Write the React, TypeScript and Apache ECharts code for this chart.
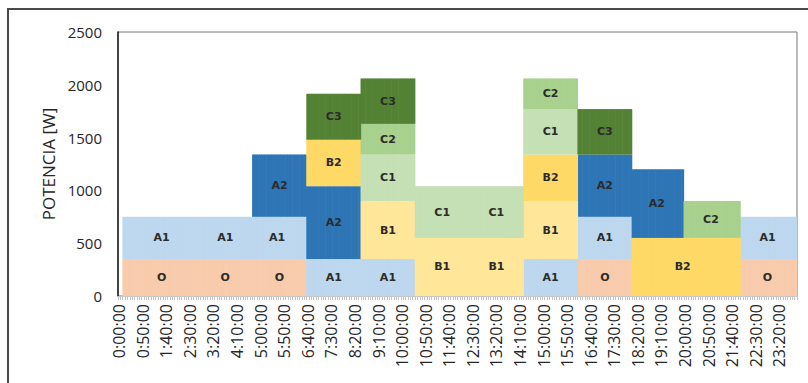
import React, { useEffect, useRef } from "react";
import * as echarts from "echarts";

// One category per 5-minute slot over a full day
const SLOT_MINUTES = 5;
const SLOT_COUNT = 288;
const LABEL_EVERY = 10; // a tick label every 50 minutes

const Y_MAX = 2500;
const Y_STEP = 500;
const Y_TITLE = "POTENCIA [W]";

// Load blocks per series: [first slot, end slot (exclusive), watts]
const O_BLOCKS = [[2, 80, 350], [195, 218, 350], [264, 288, 350]];
const A1_BLOCKS = [[2, 80, 400], [80, 126, 350], [172, 195, 350], [195, 218, 400], [264, 288, 400]];
const B2_BASE_BLOCKS = [[218, 264, 550]];
const A2_BLOCKS = [[57, 80, 590], [80, 103, 690], [195, 218, 590], [218, 240, 650]];
const B1_BLOCKS = [[103, 126, 550], [126, 172, 550], [172, 195, 550]];
const B2_BLOCKS = [[80, 103, 440], [172, 195, 440]];
const C1_BLOCKS = [[103, 126, 440], [126, 172, 490], [172, 195, 430]];
const C2_BLOCKS = [[103, 126, 290], [172, 195, 290], [240, 264, 350]];
const C3_BLOCKS = [[80, 103, 435], [103, 126, 430], [195, 218, 430]];

// Slots whose bar carries the series name
const O_LABELS = [18, 45, 68, 206, 275];
const A1_LABELS = [18, 45, 67, 91, 114, 183, 206, 275];
const B2_BASE_LABELS = [239];
const A2_LABELS = [68, 91, 206, 228];
const B1_LABELS = [114, 137, 160, 183];
const B2_LABELS = [91, 183];
const C1_LABELS = [114, 137, 160, 183];
const C2_LABELS = [114, 183, 251];
const C3_LABELS = [91, 114, 206];

// Stack order, bottom to top
const LAYERS = [
  { id: "O", name: "O", color: "#F8CBAD", blocks: O_BLOCKS, labels: O_LABELS },
  { id: "A1", name: "A1", color: "#BDD7EE", blocks: A1_BLOCKS, labels: A1_LABELS },
  { id: "B2base", name: "B2", color: "#FFD966", blocks: B2_BASE_BLOCKS, labels: B2_BASE_LABELS },
  { id: "A2", name: "A2", color: "#2E75B6", blocks: A2_BLOCKS, labels: A2_LABELS },
  { id: "B1", name: "B1", color: "#FFE699", blocks: B1_BLOCKS, labels: B1_LABELS },
  { id: "B2", name: "B2", color: "#FFD966", blocks: B2_BLOCKS, labels: B2_LABELS },
  { id: "C1", name: "C1", color: "#C5E0B4", blocks: C1_BLOCKS, labels: C1_LABELS },
  { id: "C2", name: "C2", color: "#A9D18E", blocks: C2_BLOCKS, labels: C2_LABELS },
  { id: "C3", name: "C3", color: "#548235", blocks: C3_BLOCKS, labels: C3_LABELS },
];

function slotLabel(i: number): string {
  const m = i * SLOT_MINUTES;
  const h = Math.floor(m / 60);
  const mm = String(m % 60).padStart(2, "0");
  return `${h}:${mm}:00`;
}

function expand(blocks: number[][]): (number | null)[] {
  const out: (number | null)[] = new Array(SLOT_COUNT).fill(null);
  for (const [s, e, v] of blocks) {
    for (let i = s; i < e; i++) out[i] = v;
  }
  return out;
}

export default function App() {
  const ref = useRef<HTMLDivElement>(null);

  useEffect(() => {
    if (!ref.current) return;
    const chart = echarts.init(ref.current, undefined, { renderer: "svg" });
    const categories = Array.from({ length: SLOT_COUNT }, (_, i) => slotLabel(i));

    chart.setOption({
      animation: false,
      backgroundColor: "#ffffff",
      grid: {
        left: 118,
        right: 11,
        top: 32,
        bottom: 87,
        show: true,
        borderColor: "#777777",
        borderWidth: 1,
      },
      xAxis: {
        type: "category",
        data: categories,
        boundaryGap: true,
        axisLine: { show: true, lineStyle: { color: "#c8c8c8" } },
        axisTick: { show: true, interval: 0, length: 4, lineStyle: { color: "#c4c4c4" } },
        axisLabel: {
          interval: LABEL_EVERY - 1,
          rotate: 90,
          margin: 8,
          fontFamily: "Open Sans",
          fontSize: 16,
          color: "#262626",
        },
      },
      yAxis: {
        type: "value",
        min: 0,
        max: Y_MAX,
        interval: Y_STEP,
        name: Y_TITLE,
        nameLocation: "middle",
        nameRotate: 90,
        nameGap: 56,
        nameTextStyle: { fontFamily: "Open Sans", fontSize: 17, color: "#262626" },
        axisLine: { show: true, lineStyle: { color: "#1a1a1a", width: 1.5 } },
        axisTick: { show: false },
        splitLine: { show: false },
        axisLabel: {
          margin: 16,
          fontFamily: "Open Sans",
          fontSize: 15,
          color: "#262626",
          formatter: (v: number) => String(v),
        },
      },
      series: LAYERS.map((layer) => ({
        id: layer.id,
        name: layer.name,
        type: "bar",
        stack: "power",
        // slightly wider than a slot so neighbouring slots of a block merge without seams
        barWidth: 3,
        barCategoryGap: "0%",
        data: expand(layer.blocks),
        itemStyle: { color: layer.color },
        label: {
          show: true,
          position: "inside",
          fontFamily: "DejaVu Sans",
          fontSize: 11,
          fontWeight: "bold",
          color: "#2b2b2b",
          formatter: (p: any) => (layer.labels.includes(p.dataIndex) ? layer.name : ""),
        },
      })),
    });

    return () => chart.dispose();
  }, []);

  return (
    <div style={{ position: "absolute", left: 0, top: 0, width: 808, height: 383 }}>
      <div ref={ref} style={{ position: "absolute", left: 0, top: 0, width: 808, height: 383 }} />
      <div
        style={{
          position: "absolute",
          left: 7,
          top: 8,
          width: 801,
          height: 375,
          boxSizing: "border-box",
          borderTop: "2px solid #4a4a4a",
          borderLeft: "2px solid #4a4a4a",
          pointerEvents: "none",
        }}
      />
    </div>
  );
}
